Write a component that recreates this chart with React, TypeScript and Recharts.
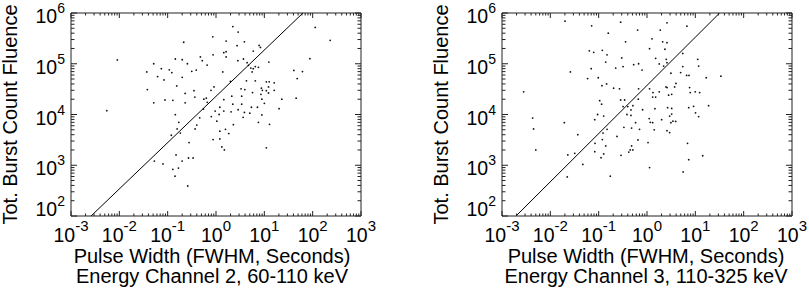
import { ScatterChart, Scatter, XAxis, YAxis } from "recharts"

// pulse width (s) / total count fluence, channel 2 (60-110 keV)
const ch2Width = [
  0.86, 0.215, 0.0091, 0.0515, 0.144, 0.2, 0.256, 0.475, 0.52, 0.87,
  0.655, 0.074, 0.108, 0.122, 0.037, 0.062, 0.084, 0.2, 0.315, 0.39,
  0.154, 0.038, 0.23, 0.35, 0.91, 0.79, 0.365, 0.0515, 0.088, 0.128,
  0.23, 0.56, 0.63, 0.0055, 0.96, 1.16, 0.55, 0.144, 0.66,
  2.23, 2.87, 1.62, 2.73, 3.87, 7.8, 8.3, 1.45, 1.62, 1.62,
  5.9, 2.83, 3.7, 4.4, 4.7, 5.25, 6.5, 7.55, 5.9, 5.6,
  12.4, 1.38, 113, 230, 87.5, 40.8, 61.5, 47.8, 1.99, 4.26,
  6.5, 11, 12.6, 16, 12.2, 3.3, 3.95, 8.7, 9.1, 11,
  16, 5.7, 8.5, 12.2, 8.9, 1.45, 2.12, 3.4, 23, 45.5,
  2.23, 3.4, 5.4, 7.2, 10, 1.2, 1.45, 2.87, 3.87, 2.05, 20.2,
  0.17, 0.119, 0.157, 0.183, 0.4, 0.37, 0.46, 0.8, 1.04, 1.2,
  0.87, 1.2, 0.277, 0.149, 0.199, 0.27, 0.336, 0.053, 0.08, 0.167,
  0.128, 0.142, 0.26,
  5.0, 8.9, 3.64, 2.29, 7.55, 12.8, 1.57, 1.84, 1.32, 1.49, 11,
]
const ch2Fluence = [
  3.4e5, 2.65e5, 1.19e5, 1.0e5, 1.24e5, 1.2e5, 1.0e5, 1.36e5, 1.15e5, 1.5e5,
  9.4e4, 8.0e4, 7.6e4, 6.7e4, 6.9e4, 5.6e4, 4.8e4, 5.4e4, 7.1e4, 7.5e4,
  3.65e4, 3.1e4, 2.6e4, 2.95e4, 3.5e4, 3.0e4, 2.2e4, 1.7e4, 1.93e4, 1.9e4,
  1.7e4, 2.0e4, 2.1e4, 1.19e4, 1.17e4, 1.0e4, 1.28e4, 9.9e3, 1.74e4,
  5.4e5, 4.2e5, 2.8e5, 2.27e5, 2.7e5, 2.3e5, 2.1e5, 1.65e5, 1.73e5, 1.36e5,
  1.78e5, 1.15e5, 1.24e5, 1.05e5, 9.3e4, 8.2e4, 8.8e4, 8.5e4, 8.0e4, 6.9e4,
  1.08e5, 6.9e4, 5.2e5, 2.9e5, 1.26e5, 7.4e4, 7.0e4, 5.1e4, 4.5e4, 4.6e4,
  4.6e4, 4.4e4, 4.4e4, 4.2e4, 3.5e4, 3.2e4, 3.1e4, 3.3e4, 3.0e4, 2.95e4,
  3.0e4, 2.7e4, 2.5e4, 2.65e4, 2.0e4, 1.96e4, 2.3e4, 2.3e4, 2.0e4, 2.1e4,
  1.6e4, 1.6e4, 1.39e4, 1.39e4, 1.66e4, 1.39e4, 1.17e4, 1.24e4, 1.1e4, 1.13e4, 1.3e4,
  7.0e3, 3.9e3, 5.2e3, 4.3e3, 6.2e3, 5.2e3, 8.6e3, 9.1e3, 7.4e3, 4.7e3,
  3.2e3, 3.3e3, 2.8e3, 1.6e3, 1.21e3, 1.39e3, 1.39e3, 1.21e3, 1.06e3, 880,
  830, 610, 390,
  1.06e4, 9.8e3, 8.8e3, 6.3e3, 7.0e3, 6.4e3, 5.1e3, 4.2e3, 2.3e3, 2.0e3, 2.2e3,
]

// channel 3 (110-325 keV)
const ch3Width = [
  0.0201, 0.0716, 0.285, 0.64, 0.158, 0.36, 1.13, 0.064, 0.079, 0.119,
  0.149, 0.3, 0.14, 0.53, 0.67, 0.225, 0.32, 0.79, 0.07, 0.026,
  0.098, 0.059, 0.146, 0.117, 0.204, 0.27, 0.67, 1.13, 0.0028, 0.105,
  0.115, 0.285, 0.345, 0.66, 0.51, 0.4, 0.32, 0.466, 0.81, 0.095, 0.385,
  2.59, 6.7, 1.88, 1.27, 2.11, 2.59, 2.35, 1.51, 2.5, 2.59,
  1.79, 2.21, 5.5, 11.2, 11.7, 5.5, 4.97, 3.13, 6.6, 7.4,
  16.8, 33.8, 3.97, 2.47, 2.6, 3.73, 7.6, 7.85, 9.95, 12.3,
  1.33, 1.79, 1.31, 1.51, 2.8, 3.24, 18.8, 7.3, 9.2, 2.67,
  3.24, 1.46, 3.24, 10.1,
  0.0043, 0.0045, 0.005, 0.0195, 0.037, 0.023, 0.032, 0.047, 0.0224, 0.127,
  0.083, 0.149, 0.123, 0.119, 0.084, 0.14, 0.083, 0.127, 0.112, 0.239,
  0.333, 0.466, 0.48, 0.58, 0.7, 1.11, 0.65, 0.48, 0.45, 0.51,
  0.42, 0.29, 1.05, 1.13, 0.174,
  2.01, 2.94, 1.17, 1.31, 1.41, 3.13, 3.44, 3.92, 2.59, 2.94, 11.7, 6.9, 14.2, 7.3, 5.6,
]
const ch3Fluence = [
  6.9e5, 5.6e5, 6.6e5, 4.6e5, 4.0e5, 2.7e5, 1.98e5, 1.8e5, 1.68e5, 1.84e5,
  1.5e5, 1.3e5, 1.08e5, 9.6e4, 1.0e5, 8.2e4, 8.8e4, 7.5e4, 8.0e4, 6.9e4,
  5.3e4, 5.1e4, 4.0e4, 3.7e4, 3.3e4, 3.2e4, 3.2e4, 3.2e4, 2.8e4, 1.87e4,
  1.6e4, 1.93e4, 1.93e4, 2.0e4, 1.49e4, 1.43e4, 1.43e4, 1.23e4, 1.24e4, 1.0e4, 1.0e4,
  6.4e5, 5.5e5, 4.6e5, 3.1e5, 2.7e5, 2.6e5, 1.93e5, 1.28e5, 1.22e5, 1.05e5,
  9.9e4, 9.0e4, 1.6e5, 1.22e5, 9.0e4, 8.8e4, 6.7e4, 6.5e4, 5.9e4, 5.9e4,
  5.3e4, 5.7e4, 4.1e4, 3.5e4, 3.4e4, 3.5e4, 3.4e4, 2.7e4, 2.8e4, 2.7e4,
  2.7e4, 2.8e4, 2.2e4, 2.2e4, 2.4e4, 2.5e4, 1.49e4, 1.36e4, 1.45e4, 1.36e4,
  1.32e4, 1.3e4, 1.02e4, 1.08e4,
  8.5e3, 5.2e3, 2.0e3, 6.9e3, 4.0e3, 1.6e3, 1.72e3, 1.04e3, 590, 9.3e3,
  7.9e3, 5.1e3, 4.3e3, 3.2e3, 2.7e3, 2.4e3, 1.85e3, 1.67e3, 1.41e3, 3.7e3,
  5.6e3, 9.6e3, 5.4e3, 6.9e3, 5.1e3, 8.3e3, 3.15e3, 2.4e3, 2.0e3, 2.0e3,
  1.82e3, 1.57e3, 2.8e3, 900, 610,
  7.9e3, 9.3e3, 7.0e3, 6.9e3, 5.0e3, 6.9e3, 7.4e3, 7.3e3, 4.8e3, 4.4e3, 9.1e3, 2.7e3, 1.54e3, 1.29e3, 740,
]

// fitted power-law lines (end points)
const ch2FitWidth = [0.0026, 63]
const ch2FitFluence = [100, 1e6]
const ch3FitWidth = [0.00195, 31.8]
const ch3FitFluence = [100, 1e6]

const xDecades = [1e-3, 1e-2, 1e-1, 1, 10, 100, 1000]
const yDecades = [1e2, 1e3, 1e4, 1e5, 1e6]
const minorSteps = [2, 3, 4, 5, 6, 7, 8, 9]

const withMinor = (decades: number[]) => {
  const out: number[] = []
  decades.forEach((d, i) => {
    out.push(d)
    if (i < decades.length - 1) minorSteps.forEach((m) => out.push(d * m))
  })
  return out
}
const xTicks = withMinor(xDecades)
const yTicks = withMinor(yDecades)

const toPoints = (xs: number[], ys: number[]) => xs.map((x, i) => ({ x, y: ys[i] }))

const FONT = '"Liberation Sans", Arial, Helvetica, sans-serif'
const AXIS = "#222"

const isDecade = (v: number) => Math.abs(Math.log10(v) - Math.round(Math.log10(v))) < 1e-6
const expOf = (v: number) => Math.round(Math.log10(v))

function XTick(props: any) {
  const { x, y, payload, side } = props
  const v = payload.value
  const major = isDecade(v)
  const len = major ? 5 : 2.5
  const dir = side === "bottom" ? -1 : 1
  return (
    <g>
      <line x1={x} x2={x} y1={y} y2={y + dir * len} stroke={AXIS} />
      {major && side === "bottom" && (
        <text x={x} y={y + 26} textAnchor="middle" fontSize={19.5} fill="#000">
          10<tspan dy={-11} fontSize={15}>{expOf(v)}</tspan>
        </text>
      )}
    </g>
  )
}

function YTick(props: any) {
  const { x, y, payload, side } = props
  const v = payload.value
  const major = isDecade(v)
  const len = major ? 6 : 3.5
  const dir = side === "left" ? 1 : -1
  // lowest label is pushed up so it stays clear of the x-axis labels
  const lift = v === yDecades[0] ? 0 : 10
  return (
    <g>
      <line x1={x} x2={x + dir * len} y1={y} y2={y} stroke={AXIS} />
      {major && side === "left" && (
        <text x={x - 6} y={y + lift} textAnchor="end" fontSize={19.5} fill="#000">
          10<tspan dy={-10} fontSize={14}>{expOf(v)}</tspan>
        </text>
      )}
    </g>
  )
}

function XTitle(props: any) {
  const { viewBox, caption, dx } = props
  const cx = viewBox.x + viewBox.width / 2 + dx
  return (
    <g fontSize={20} fill="#000">
      <text x={cx} y={viewBox.y + 47} textAnchor="middle">Pulse Width (FWHM, Seconds)</text>
      <text x={cx} y={viewBox.y + 67} textAnchor="middle">{caption}</text>
    </g>
  )
}

function YTitle(props: any) {
  const { viewBox } = props
  const cx = viewBox.x + viewBox.width - 54
  const cy = viewBox.y + viewBox.height / 2
  return (
    <text x={cx} y={cy} transform={`rotate(-90 ${cx} ${cy})`} textAnchor="middle" fontSize={20} fill="#000">
      Tot. Burst Count Fluence
    </text>
  )
}

const Dot = (p: any) => <circle cx={p.cx} cy={p.cy} r={0.9} fill="#111" />
const NoDot = () => null

interface PanelProps {
  left: number
  width: number
  widths: number[]
  fluences: number[]
  fitWidth: number[]
  fitFluence: number[]
  caption: string
  titleDx: number
}

function Panel({ left, width, widths, fluences, fitWidth, fitFluence, caption, titleDx }: PanelProps) {
  const points = toPoints(widths, fluences)
  const fit = toPoints(fitWidth, fitFluence)
  // axes are 1px thick so that Recharts still draws them; the plot box is 71..361 x 13..216
  const xCommon = {
    type: "number" as const,
    dataKey: "x",
    scale: "log" as const,
    domain: [1e-3, 1e3],
    ticks: xTicks,
    interval: 0,
    tickSize: 0,
    tickMargin: 0,
    height: 1,
    allowDataOverflow: true,
    tickLine: false,
    axisLine: { stroke: AXIS },
  }
  const yCommon = {
    type: "number" as const,
    dataKey: "y",
    scale: "log" as const,
    domain: [1e2, 1e6],
    ticks: yTicks,
    interval: 0,
    tickSize: 0,
    tickMargin: 0,
    width: 1,
    allowDataOverflow: true,
    tickLine: false,
    axisLine: { stroke: AXIS },
  }
  return (
    <div style={{ position: "absolute", left, top: 0 }}>
      <ScatterChart width={width} height={295} margin={{ top: 12, right: width - 362, bottom: 78, left: 70 }}>
        <XAxis {...xCommon} xAxisId="b" orientation="bottom" tick={<XTick side="bottom" />}
          label={<XTitle caption={caption} dx={titleDx} />} />
        <XAxis {...xCommon} xAxisId="t" orientation="top" tick={<XTick side="top" />} />
        <YAxis {...yCommon} yAxisId="l" orientation="left" tick={<YTick side="left" />} label={<YTitle />} />
        <YAxis {...yCommon} yAxisId="r" orientation="right" tick={<YTick side="right" />} />
        <Scatter xAxisId="b" yAxisId="l" data={points} shape={Dot} isAnimationActive={false} />
        <Scatter xAxisId="b" yAxisId="l" data={fit} shape={NoDot} line={{ stroke: "#000", strokeWidth: 1 }}
          isAnimationActive={false} />
      </ScatterChart>
    </div>
  )
}

export default function App() {
  return (
    <div style={{ position: "absolute", left: 0, top: 0, width: 809, height: 295, overflow: "hidden", background: "#fff", fontFamily: FONT }}>
      <Panel left={0} width={400} widths={ch2Width} fluences={ch2Fluence} fitWidth={ch2FitWidth}
        fitFluence={ch2FitFluence} caption="Energy Channel 2, 60-110 keV" titleDx={-4} />
      <Panel left={431} width={378} widths={ch3Width} fluences={ch3Fluence} fitWidth={ch3FitWidth}
        fitFluence={ch3FitFluence} caption="Energy Channel 3, 110-325 keV" titleDx={-1} />
    </div>
  )
}
